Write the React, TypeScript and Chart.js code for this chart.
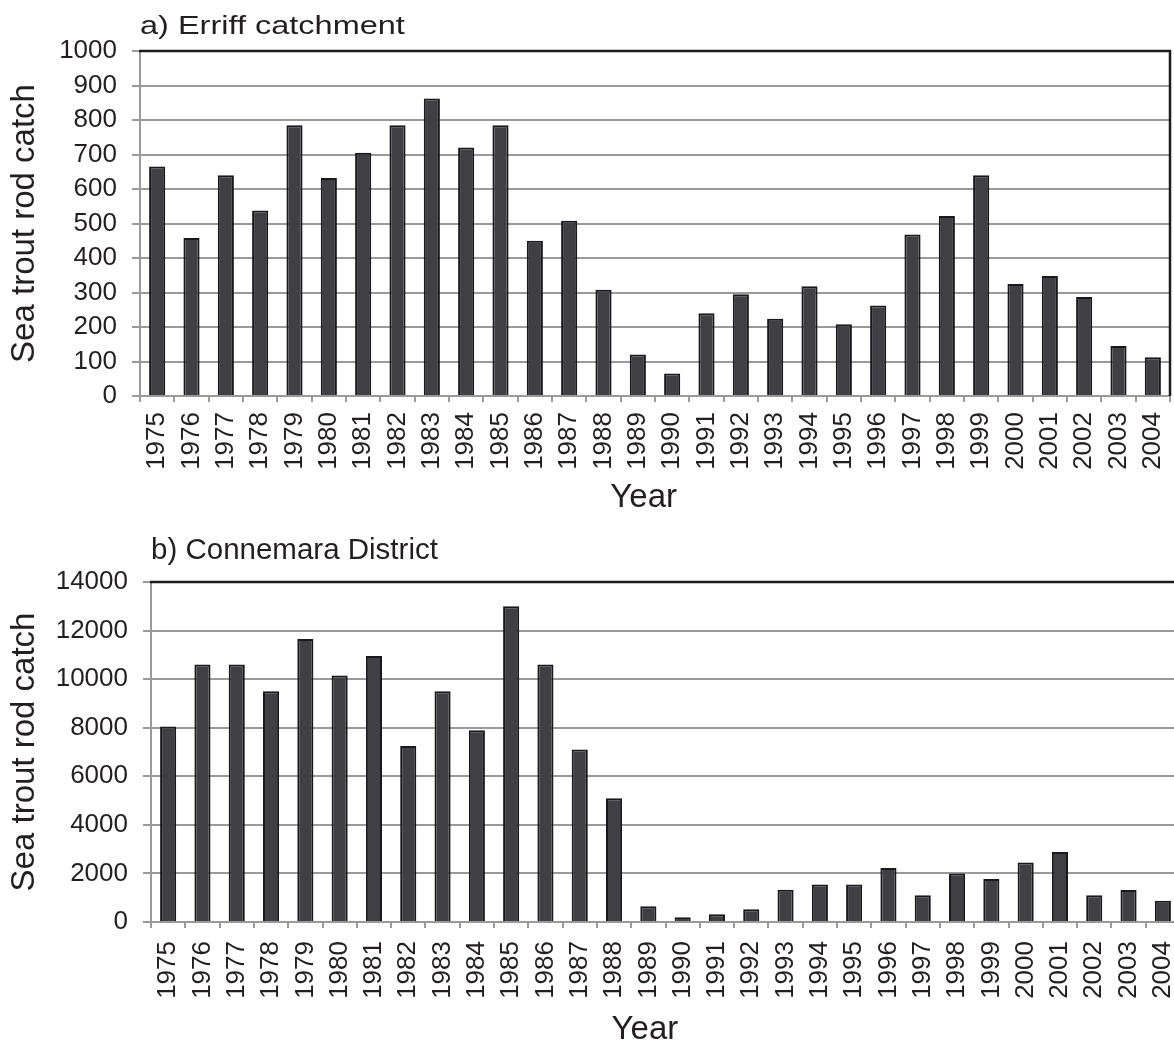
import { useEffect, useRef } from 'react';
import { Chart, registerables } from 'chart.js';

Chart.register(...registerables);

const years = [
  '1975', '1976', '1977', '1978', '1979', '1980', '1981', '1982', '1983', '1984',
  '1985', '1986', '1987', '1988', '1989', '1990', '1991', '1992', '1993', '1994',
  '1995', '1996', '1997', '1998', '1999', '2000', '2001', '2002', '2003', '2004',
];

const erriffCatch = [
  665, 458, 640, 538, 785, 632, 705, 785, 862, 720,
  785, 450, 508, 308, 120, 65, 240, 295, 224, 318,
  208, 262, 468, 522, 640, 325, 348, 287, 145, 112,
];

const connemaraCatch = [
  8050, 10600, 10600, 9500, 11650, 10150, 10950, 7250, 9500, 7900,
  13000, 10600, 7100, 5100, 650, 200, 320, 530, 1330, 1540,
  1540, 2220, 1100, 2000, 1770, 2450, 2880, 1100, 1320, 880,
];

const erriffTicks = { min: 0, max: 1000, step: 100 };
const connemaraTicks = { min: 0, max: 14000, step: 2000 };

const FONT = "'Liberation Sans', Arial, Helvetica, sans-serif";
const TEXT = '#231f20';
const GRID = '#9a9a9a';

const panelDecor = {
  id: 'panelDecor',
  afterDraw(chart: any, _args: any, opts: any) {
    const { ctx, chartArea } = chart;
    const { left, top, right, bottom } = chartArea;
    ctx.save();
    ctx.strokeStyle = '#1c1c1e';
    ctx.lineWidth = 2.5;
    ctx.beginPath();
    ctx.moveTo(left - 1, top);
    ctx.lineTo(right, top);
    if (opts.rightBorder) ctx.lineTo(right, bottom);
    ctx.stroke();

    ctx.fillStyle = TEXT;
    ctx.font = `${opts.titleSize}px ${FONT}`;
    ctx.textAlign = 'left';
    ctx.textBaseline = 'alphabetic';
    ctx.save();
    ctx.translate(left, top - opts.titleGap);
    ctx.scale(opts.titleScaleX, 1);
    ctx.fillText(opts.title, 0, 0);
    ctx.restore();

    ctx.font = `33px ${FONT}`;
    ctx.textAlign = 'center';
    ctx.fillText(opts.xTitle, left + (right - left) * opts.xTitleFrac, bottom + opts.xTitleGap);
    ctx.restore();
  },
};

type PanelProps = {
  labels: string[];
  values: number[];
  ticks: { min: number; max: number; step: number };
  width: number;
  height: number;
  top: number;
  pad: { top: number; right: number };
  yWidth: number;
  xHeight: number;
  xLabelPad: number;
  title: string;
  titleSize: number;
  titleScaleX: number;
  titleGap: number;
  xTitleFrac: number;
  xTitleGap: number;
  rightBorder: boolean;
};

function BarPanel(p: PanelProps) {
  const ref = useRef<HTMLCanvasElement | null>(null);
  useEffect(() => {
    if (!ref.current) return;
    const chart = new Chart(ref.current, {
      type: 'bar',
      data: {
        labels: p.labels,
        datasets: [
          {
            data: p.values,
            backgroundColor: '#403f44',
            borderColor: '#19181d',
            borderWidth: 2,
            barPercentage: 0.47,
            categoryPercentage: 1,
          },
        ],
      },
      plugins: [panelDecor as any],
      options: {
        animation: false,
        responsive: false,
        layout: { padding: { top: p.pad.top, right: p.pad.right, left: 0, bottom: 0 } },
        plugins: {
          legend: { display: false },
          tooltip: { enabled: false },
          panelDecor: {
            title: p.title,
            titleSize: p.titleSize,
            titleScaleX: p.titleScaleX,
            titleGap: p.titleGap,
            xTitle: 'Year',
            xTitleFrac: p.xTitleFrac,
            xTitleGap: p.xTitleGap,
            rightBorder: p.rightBorder,
          },
        } as any,
        scales: {
          x: {
            type: 'category',
            offset: true,
            afterFit: (scale: any) => {
              scale.height = p.xHeight;
              scale.paddingLeft = 0;
              scale.paddingRight = 0;
            },
            grid: {
              offset: true,
              drawOnChartArea: false,
              drawTicks: true,
              tickLength: 6,
              color: GRID,
              lineWidth: 2,
            },
            border: { display: true, color: GRID, width: 2 },
            ticks: {
              autoSkip: false,
              maxRotation: 90,
              minRotation: 90,
              padding: p.xLabelPad,
              color: TEXT,
              font: { family: FONT, size: 26 },
            },
          },
          y: {
            min: p.ticks.min,
            max: p.ticks.max,
            afterFit: (scale: any) => {
              scale.width = p.yWidth;
              scale.paddingTop = 0;
              scale.paddingBottom = 0;
            },
            grid: {
              color: GRID,
              lineWidth: 2,
              drawTicks: true,
              tickLength: 8,
            },
            border: { display: true, color: GRID, width: 2 },
            ticks: {
              stepSize: p.ticks.step,
              padding: 15,
              color: TEXT,
              font: { family: FONT, size: 26 },
              callback: (v: any) => String(v),
            },
            title: {
              display: true,
              text: 'Sea trout rod catch',
              color: TEXT,
              font: { family: FONT, size: 33 },
              padding: { top: 5, bottom: 0 },
            },
          },
        },
      },
    });
    return () => chart.destroy();
  }, []);
  return (
    <canvas
      ref={ref}
      width={p.width}
      height={p.height}
      style={{ position: 'absolute', left: 0, top: p.top, width: p.width, height: p.height, display: 'block' }}
    />
  );
}

export default function App() {
  return (
    <div
      style={{
        position: 'absolute',
        left: 0,
        top: 0,
        width: 1174,
        height: 1042,
        overflow: 'hidden',
        background: '#ffffff',
      }}
    >
      <BarPanel
        labels={years}
        values={erriffCatch}
        ticks={erriffTicks}
        width={1174}
        height={530}
        top={0}
        pad={{ top: 51, right: 4 }}
        yWidth={140}
        xHeight={134}
        xLabelPad={10}
        title="a) Erriff catchment"
        titleSize={26}
        titleScaleX={1.25}
        titleGap={17}
        xTitleFrac={0.489}
        xTitleGap={111}
        rightBorder={true}
      />
      <BarPanel
        labels={years}
        values={connemaraCatch}
        ticks={connemaraTicks}
        width={1180}
        height={512}
        top={530}
        pad={{ top: 52, right: 0 }}
        yWidth={151}
        xHeight={120}
        xLabelPad={13}
        title="b) Connemara District"
        titleSize={29.5}
        titleScaleX={1}
        titleGap={23}
        xTitleFrac={0.48}
        xTitleGap={117}
        rightBorder={false}
      />
    </div>
  );
}
